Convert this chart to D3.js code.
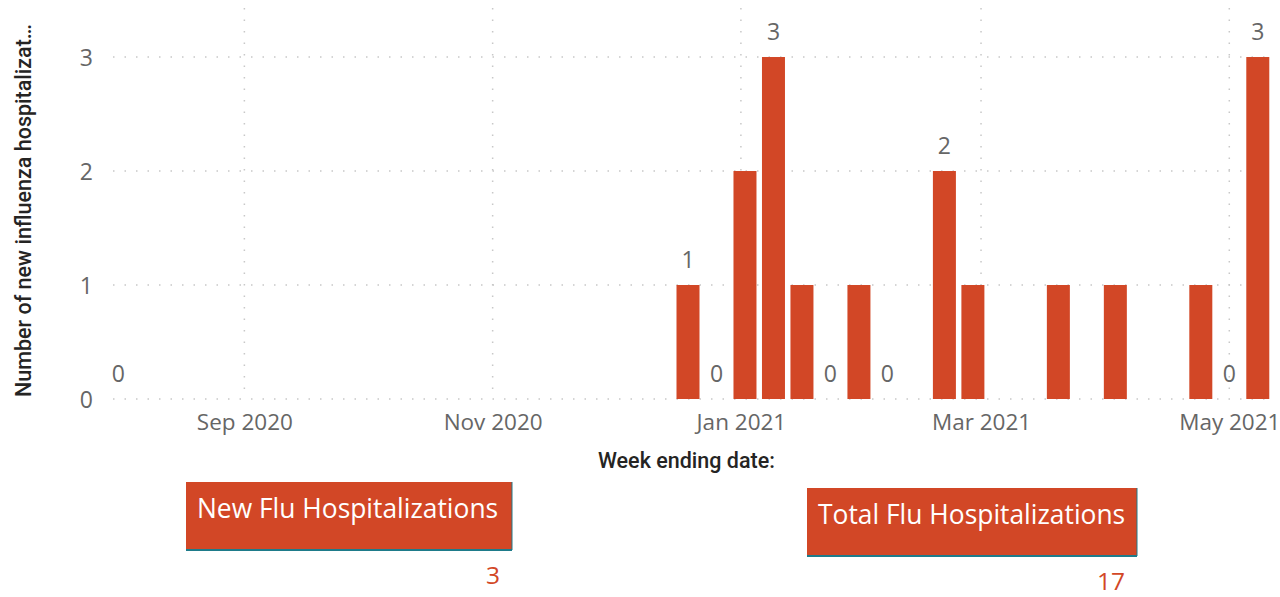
<!DOCTYPE html>
<html>
<head>
<meta charset="utf-8">
<script src="https://cdn.jsdelivr.net/npm/d3@7"></script>
<style>
  body { margin: 0; background: #fff; }
  svg { display: block; }
</style>
</head>
<body>
<svg width="1280" height="597"></svg>
<script>
// week ending dates with reported values (weeks with no record are left out)
const weekEnding = [
  '2020-08-01', '2020-12-19', '2020-12-26', '2021-01-02', '2021-01-09',
  '2021-01-16', '2021-01-23', '2021-01-30', '2021-02-06', '2021-02-20',
  '2021-02-27', '2021-03-20', '2021-04-03', '2021-04-24', '2021-05-01',
  '2021-05-08'
];
const newHosp = [0, 1, 0, 2, 3, 1, 0, 1, 0, 2, 1, 1, 1, 1, 0, 3];
// which points get a data label in the original
const showLabel = [1, 1, 1, 0, 1, 0, 1, 0, 1, 1, 0, 0, 0, 0, 1, 1];
const monthTicks = ['2020-09-01', '2020-11-01', '2021-01-01', '2021-03-01', '2021-05-01'];
const yTicks = [0, 1, 2, 3];

const parse = d3.utcParse('%Y-%m-%d');
const data = weekEnding.map((d, i) => ({
  date: parse(d),
  value: newHosp[i],
  label: showLabel[i] === 1
}));

const orange = '#D24726';
const svg = d3.select('svg');

const x = d3.scaleUtc()
  .domain([parse('2020-07-29'), parse('2021-05-11')])
  .range([106, 1270]);
const y = d3.scaleLinear().domain([0, 3.43]).range([399, 8]);
const barW = 23;

// grid
svg.append('g')
  .selectAll('line')
  .data(yTicks)
  .join('line')
  .attr('x1', 113)
  .attr('x2', 1270)
  .attr('y1', d => y(d))
  .attr('y2', d => y(d))
  .attr('stroke', '#c8c8c8')
  .attr('stroke-width', 1.5)
  .attr('stroke-dasharray', '1.5,10');

svg.append('g')
  .selectAll('line')
  .data(monthTicks.map(parse))
  .join('line')
  .attr('x1', d => x(d))
  .attr('x2', d => x(d))
  .attr('y1', 8)
  .attr('y2', 399)
  .attr('stroke', '#c8c8c8')
  .attr('stroke-width', 1.5)
  .attr('stroke-dasharray', '1.5,10');

// axes
const yAxis = svg.append('g')
  .attr('transform', 'translate(93,0)')
  .call(d3.axisLeft(y).tickValues(yTicks).tickFormat(d3.format('d')).tickSize(0).tickPadding(0));
yAxis.select('.domain').remove();
yAxis.selectAll('text')
  .attr('font-family', 'Open Sans')
  .attr('font-size', 23)
  .attr('fill', '#666')
  .attr('dy', '0.36em');

const xAxis = svg.append('g')
  .attr('transform', 'translate(0,410)')
  .call(d3.axisBottom(x)
    .tickValues(monthTicks.map(parse))
    .tickFormat(d3.utcFormat('%b %Y'))
    .tickSize(0)
    .tickPadding(0));
xAxis.select('.domain').remove();
xAxis.selectAll('text')
  .attr('font-family', 'Open Sans')
  .attr('font-size', 22.5)
  .attr('fill', '#666')
  .attr('dy', '0.9em');

// bars
svg.append('g')
  .selectAll('rect')
  .data(data)
  .join('rect')
  .attr('x', d => x(d.date) - barW / 2)
  .attr('y', d => y(d.value))
  .attr('width', barW)
  .attr('height', d => y(0) - y(d.value))
  .attr('fill', orange);

// data labels
svg.append('g')
  .selectAll('text')
  .data(data.filter(d => d.label))
  .join('text')
  .attr('x', d => x(d.date))
  .attr('y', d => y(d.value) - 17)
  .attr('text-anchor', 'middle')
  .attr('font-family', 'Open Sans')
  .attr('font-size', 23)
  .attr('fill', '#666')
  .text(d => d.value);

// axis titles
svg.append('text')
  .attr('transform', 'translate(31,397) rotate(-90)')
  .attr('font-family', 'Roboto')
  .attr('font-weight', 500)
  .attr('font-size', 21.5)
  .attr('fill', '#252423')
  .text('Number of new influenza hospitalizat…');

svg.append('text')
  .attr('x', 598)
  .attr('y', 468)
  .attr('font-family', 'Roboto')
  .attr('font-weight', 500)
  .attr('font-size', 21.5)
  .attr('fill', '#252423')
  .text('Week ending date:');

// cards
const latest = newHosp[newHosp.length - 1];
const total = d3.sum(newHosp);
const cards = [
  { title: 'New Flu Hospitalizations', value: latest, x: 186, y: 482, w: 326, h: 68 },
  { title: 'Total Flu Hospitalizations', value: total, x: 807, y: 488, w: 330, h: 68 }
];

const card = svg.append('g')
  .selectAll('g')
  .data(cards)
  .join('g')
  .attr('transform', d => `translate(${d.x},${d.y})`);

card.append('rect')
  .attr('width', d => d.w)
  .attr('height', d => d.h)
  .attr('fill', orange);
card.append('line')
  .attr('x1', 0).attr('x2', d => d.w)
  .attr('y1', d => d.h).attr('y2', d => d.h)
  .attr('stroke', '#1e7b8a').attr('stroke-width', 2);
card.append('line')
  .attr('x1', d => d.w).attr('x2', d => d.w)
  .attr('y1', 0).attr('y2', d => d.h)
  .attr('stroke', '#1e7b8a').attr('stroke-width', 1);
card.append('text')
  .attr('x', 11)
  .attr('y', 36)
  .attr('font-family', 'Open Sans')
  .attr('font-size', 26.4)
  .attr('fill', '#fff')
  .text(d => d.title);
card.append('text')
  .attr('x', d => d.w - 12)
  .attr('y', d => d.h + 34)
  .attr('text-anchor', 'end')
  .attr('font-family', 'Open Sans')
  .attr('font-size', 24.5)
  .attr('fill', orange)
  .text(d => d.value);
</script>
</body>
</html>
